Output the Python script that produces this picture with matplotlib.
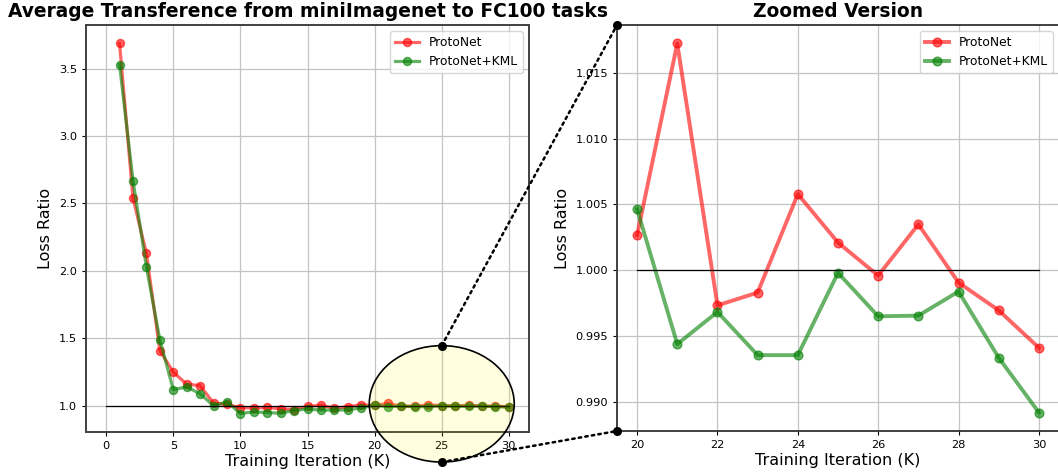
import numpy as np
import matplotlib
matplotlib.use('Agg')
import matplotlib.pyplot as plt
from matplotlib.patches import Ellipse, ConnectionPatch

iters = list(range(1, 31))
protonet = [3.686, 2.54, 2.13, 1.41, 1.25, 1.16, 1.15, 1.02, 1.01, 0.987,
            0.983, 0.988, 0.978, 0.972, 0.997, 1.004, 0.982, 0.993, 1.008,
            1.00266, 1.01722, 0.99733, 0.99830, 1.00578, 1.00210, 0.99959,
            1.00348, 0.99906, 0.99695, 0.99411]
kml = [3.53, 2.67, 2.03, 1.49, 1.12, 1.14, 1.09, 1.00, 1.03, 0.943,
       0.955, 0.950, 0.945, 0.965, 0.977, 0.968, 0.968, 0.970, 0.985,
       1.00464, 0.99439, 0.99683, 0.99355, 0.99355, 0.99980, 0.99650,
       0.99655, 0.99838, 0.99335, 0.98919]
zoom_start = 20

W, H = 1058, 475
fig = plt.figure(figsize=(W / 100, H / 100), dpi=100)
ax1 = fig.add_axes([86 / W, 1 - 432 / H, 443 / W, 407 / H])
ax2 = fig.add_axes([617 / W, 1 - 431 / H, 442 / W, 406 / H])

x = np.array(iters)
p = np.array(protonet)
k = np.array(kml)
zi = x >= zoom_start

def style(ax):
    ax.grid(True, color='#c4c4c4', lw=0.9)
    ax.set_axisbelow(True)
    for s in ax.spines.values():
        s.set_color('0.25')
        s.set_linewidth(1.4)
    ax.tick_params(labelsize=8.2, length=3, width=0.8)
    ax.set_xlabel('Training Iteration (K)', fontsize=11.5, labelpad=2)
    ax.set_ylabel('Loss Ratio', fontsize=11.5)

# full curve
ax1.plot(x, p, '-o', color='r', alpha=0.6, lw=2.3, ms=5.8, label='ProtoNet')
ax1.plot(x, k, '-o', color='g', alpha=0.6, lw=2.3, ms=5.8, label='ProtoNet+KML')
ax1.plot([0, 30], [1, 1], color='k', lw=0.9)
ax1.set_xticks(range(0, 31, 5))
ax1.set_yticks([1.0, 1.5, 2.0, 2.5, 3.0, 3.5])
style(ax1)
ax1.legend(loc='upper right', fontsize=8.8)
ax1.set_title('Average Transference from miniImagenet to FC100 tasks',
              fontsize=13.4, fontweight='bold', pad=6)

# zoomed curve
ax2.plot(x[zi], p[zi], '-o', color='r', alpha=0.6, lw=2.8, ms=6.3, label='ProtoNet')
ax2.plot(x[zi], k[zi], '-o', color='g', alpha=0.6, lw=2.8, ms=6.3, label='ProtoNet+KML')
ax2.plot([20, 30], [1, 1], color='k', lw=0.9)
ax2.set_xticks(range(20, 31, 2))
ax2.set_yticks([0.990, 0.995, 1.000, 1.005, 1.010, 1.015])
ax2.yaxis.set_major_formatter(matplotlib.ticker.FormatStrFormatter('%.3f'))
style(ax2)
ax2.legend(loc='upper right', fontsize=8.8)
ax2.set_title('Zoomed Version', fontsize=13.4, fontweight='bold', pad=6)

# ellipse highlighting the zoomed region (add_artist: no autoscale)
e_top, e_bot = 1.446, 0.583
ell = Ellipse((25, (e_top + e_bot) / 2), width=10.8, height=e_top - e_bot,
              facecolor='yellow', alpha=0.12, edgecolor='none', zorder=5,
              clip_on=False, transform=ax1.transData)
ax1.add_artist(ell)
ell2 = Ellipse((25, (e_top + e_bot) / 2), width=10.8, height=e_top - e_bot,
               facecolor='none', edgecolor='k', lw=1.2, zorder=6,
               clip_on=False, transform=ax1.transData)
ax1.add_artist(ell2)

for ya, yb in [(e_top, 1), (e_bot, 0)]:
    con = ConnectionPatch(xyA=(25, ya), coordsA=ax1.transData,
                          xyB=(0, yb), coordsB=ax2.transAxes,
                          linestyle=':', lw=1.8, color='k', zorder=7)
    fig.add_artist(con)
    ax1.plot(25, ya, 'o', color='k', ms=5.5, clip_on=False, zorder=8,
             scalex=False, scaley=False)
    ax2.plot(0, yb, 'o', color='k', ms=5.5, clip_on=False, zorder=8,
             transform=ax2.transAxes, scalex=False, scaley=False)

fig.savefig('out.png', dpi=100)
